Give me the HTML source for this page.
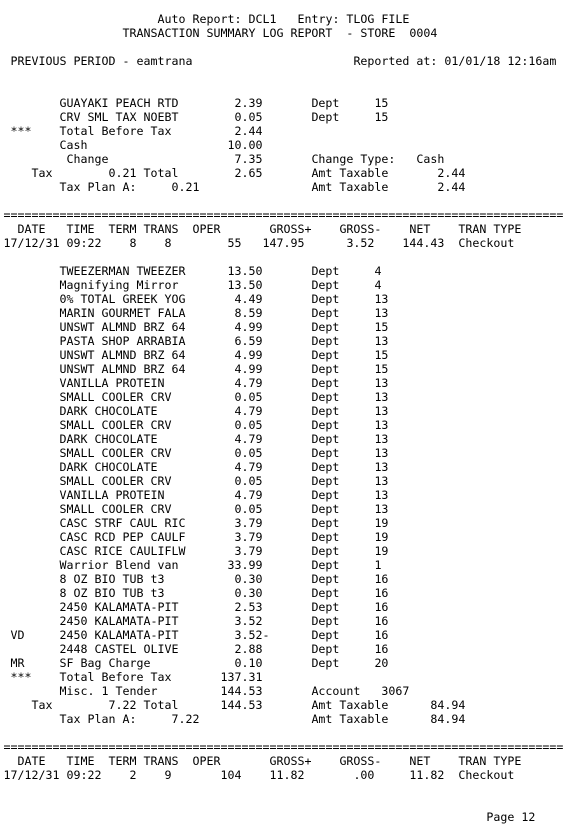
<!DOCTYPE html>
<html><head><meta charset="utf-8"><style>
html,body{margin:0;padding:0;background:#fff;}
#r{position:relative;width:572px;height:835px;overflow:hidden;padding-top:12px;box-sizing:border-box;font-family:"DejaVu Sans Mono","Liberation Mono",monospace;font-size:11.63px;color:#000;}
.l{position:relative;height:14px;line-height:14px;margin-left:3.5px;white-space:pre;}
.l span{position:absolute;top:0;white-space:pre;}
.a{left:0;width:37ch;text-align:right;}
</style></head><body>
<div id="r">
<div class="l"><span style="left:22ch">Auto Report: DCL1   Entry: TLOG FILE</span></div>
<div class="l"><span style="left:17ch">TRANSACTION SUMMARY LOG REPORT  - STORE  0004</span></div>
<div class="l"></div>
<div class="l"><span style="left:1ch">PREVIOUS PERIOD - eamtrana</span><span style="left:50ch">Reported at: 01/01/18 12:16am</span></div>
<div class="l"></div><div class="l"></div>
<div class="l"><span style="left:8ch">GUAYAKI PEACH RTD</span><span class="a">2.39</span><span style="left:44ch">Dept</span><span style="left:53ch">15</span></div>
<div class="l"><span style="left:8ch">CRV SML TAX NOEBT</span><span class="a">0.05</span><span style="left:44ch">Dept</span><span style="left:53ch">15</span></div>
<div class="l"><span style="left:1ch">***</span><span style="left:8ch">Total Before Tax</span><span class="a">2.44</span></div>
<div class="l"><span style="left:8ch">Cash</span><span class="a">10.00</span></div>
<div class="l"><span style="left:9ch">Change</span><span class="a">7.35</span><span style="left:44ch">Change Type:</span><span style="left:59ch">Cash</span></div>
<div class="l"><span style="left:4ch">Tax</span><span style="left:15ch">0.21 Total</span><span class="a">2.65</span><span style="left:44ch">Amt Taxable</span><span style="left:62ch">2.44</span></div>
<div class="l"><span style="left:8ch">Tax Plan A:</span><span style="left:24ch">0.21</span><span style="left:44ch">Amt Taxable</span><span style="left:62ch">2.44</span></div>
<div class="l"></div>
<div class="l"><span style="left:0">================================================================================</span></div>
<div class="l"><span style="left:2ch">DATE</span><span style="left:9ch">TIME</span><span style="left:15ch">TERM</span><span style="left:20ch">TRANS</span><span style="left:27ch">OPER</span><span style="left:38ch">GROSS+</span><span style="left:48ch">GROSS-</span><span style="left:58ch">NET</span><span style="left:65ch">TRAN TYPE</span></div>
<div class="l"><span style="left:0">17/12/31</span><span style="left:9ch">09:22</span><span style="left:18ch">8</span><span style="left:23ch">8</span><span style="left:32ch">55</span><span style="left:37ch">147.95</span><span style="left:49ch">3.52</span><span style="left:57ch">144.43</span><span style="left:65ch">Checkout</span></div>
<div class="l"></div>
<div class="l"><span style="left:8ch">TWEEZERMAN TWEEZER</span><span class="a">13.50</span><span style="left:44ch">Dept</span><span style="left:53ch">4</span></div>
<div class="l"><span style="left:8ch">Magnifying Mirror</span><span class="a">13.50</span><span style="left:44ch">Dept</span><span style="left:53ch">4</span></div>
<div class="l"><span style="left:8ch">0% TOTAL GREEK YOG</span><span class="a">4.49</span><span style="left:44ch">Dept</span><span style="left:53ch">13</span></div>
<div class="l"><span style="left:8ch">MARIN GOURMET FALA</span><span class="a">8.59</span><span style="left:44ch">Dept</span><span style="left:53ch">13</span></div>
<div class="l"><span style="left:8ch">UNSWT ALMND BRZ 64</span><span class="a">4.99</span><span style="left:44ch">Dept</span><span style="left:53ch">15</span></div>
<div class="l"><span style="left:8ch">PASTA SHOP ARRABIA</span><span class="a">6.59</span><span style="left:44ch">Dept</span><span style="left:53ch">13</span></div>
<div class="l"><span style="left:8ch">UNSWT ALMND BRZ 64</span><span class="a">4.99</span><span style="left:44ch">Dept</span><span style="left:53ch">15</span></div>
<div class="l"><span style="left:8ch">UNSWT ALMND BRZ 64</span><span class="a">4.99</span><span style="left:44ch">Dept</span><span style="left:53ch">15</span></div>
<div class="l"><span style="left:8ch">VANILLA PROTEIN</span><span class="a">4.79</span><span style="left:44ch">Dept</span><span style="left:53ch">13</span></div>
<div class="l"><span style="left:8ch">SMALL COOLER CRV</span><span class="a">0.05</span><span style="left:44ch">Dept</span><span style="left:53ch">13</span></div>
<div class="l"><span style="left:8ch">DARK CHOCOLATE</span><span class="a">4.79</span><span style="left:44ch">Dept</span><span style="left:53ch">13</span></div>
<div class="l"><span style="left:8ch">SMALL COOLER CRV</span><span class="a">0.05</span><span style="left:44ch">Dept</span><span style="left:53ch">13</span></div>
<div class="l"><span style="left:8ch">DARK CHOCOLATE</span><span class="a">4.79</span><span style="left:44ch">Dept</span><span style="left:53ch">13</span></div>
<div class="l"><span style="left:8ch">SMALL COOLER CRV</span><span class="a">0.05</span><span style="left:44ch">Dept</span><span style="left:53ch">13</span></div>
<div class="l"><span style="left:8ch">DARK CHOCOLATE</span><span class="a">4.79</span><span style="left:44ch">Dept</span><span style="left:53ch">13</span></div>
<div class="l"><span style="left:8ch">SMALL COOLER CRV</span><span class="a">0.05</span><span style="left:44ch">Dept</span><span style="left:53ch">13</span></div>
<div class="l"><span style="left:8ch">VANILLA PROTEIN</span><span class="a">4.79</span><span style="left:44ch">Dept</span><span style="left:53ch">13</span></div>
<div class="l"><span style="left:8ch">SMALL COOLER CRV</span><span class="a">0.05</span><span style="left:44ch">Dept</span><span style="left:53ch">13</span></div>
<div class="l"><span style="left:8ch">CASC STRF CAUL RIC</span><span class="a">3.79</span><span style="left:44ch">Dept</span><span style="left:53ch">19</span></div>
<div class="l"><span style="left:8ch">CASC RCD PEP CAULF</span><span class="a">3.79</span><span style="left:44ch">Dept</span><span style="left:53ch">19</span></div>
<div class="l"><span style="left:8ch">CASC RICE CAULIFLW</span><span class="a">3.79</span><span style="left:44ch">Dept</span><span style="left:53ch">19</span></div>
<div class="l"><span style="left:8ch">Warrior Blend van</span><span class="a">33.99</span><span style="left:44ch">Dept</span><span style="left:53ch">1</span></div>
<div class="l"><span style="left:8ch">8 OZ BIO TUB t3</span><span class="a">0.30</span><span style="left:44ch">Dept</span><span style="left:53ch">16</span></div>
<div class="l"><span style="left:8ch">8 OZ BIO TUB t3</span><span class="a">0.30</span><span style="left:44ch">Dept</span><span style="left:53ch">16</span></div>
<div class="l"><span style="left:8ch">2450 KALAMATA-PIT</span><span class="a">2.53</span><span style="left:44ch">Dept</span><span style="left:53ch">16</span></div>
<div class="l"><span style="left:8ch">2450 KALAMATA-PIT</span><span class="a">3.52</span><span style="left:44ch">Dept</span><span style="left:53ch">16</span></div>
<div class="l"><span style="left:1ch">VD</span><span style="left:8ch">2450 KALAMATA-PIT</span><span style="left:33ch">3.52-</span><span style="left:44ch">Dept</span><span style="left:53ch">16</span></div>
<div class="l"><span style="left:8ch">2448 CASTEL OLIVE</span><span class="a">2.88</span><span style="left:44ch">Dept</span><span style="left:53ch">16</span></div>
<div class="l"><span style="left:1ch">MR</span><span style="left:8ch">SF Bag Charge</span><span class="a">0.10</span><span style="left:44ch">Dept</span><span style="left:53ch">20</span></div>
<div class="l"><span style="left:1ch">***</span><span style="left:8ch">Total Before Tax</span><span class="a">137.31</span></div>
<div class="l"><span style="left:8ch">Misc. 1 Tender</span><span class="a">144.53</span><span style="left:44ch">Account</span><span style="left:54ch">3067</span></div>
<div class="l"><span style="left:4ch">Tax</span><span style="left:15ch">7.22 Total</span><span class="a">144.53</span><span style="left:44ch">Amt Taxable</span><span style="left:61ch">84.94</span></div>
<div class="l"><span style="left:8ch">Tax Plan A:</span><span style="left:24ch">7.22</span><span style="left:44ch">Amt Taxable</span><span style="left:61ch">84.94</span></div>
<div class="l"></div>
<div class="l"><span style="left:0">================================================================================</span></div>
<div class="l"><span style="left:2ch">DATE</span><span style="left:9ch">TIME</span><span style="left:15ch">TERM</span><span style="left:20ch">TRANS</span><span style="left:27ch">OPER</span><span style="left:38ch">GROSS+</span><span style="left:48ch">GROSS-</span><span style="left:58ch">NET</span><span style="left:65ch">TRAN TYPE</span></div>
<div class="l"><span style="left:0">17/12/31</span><span style="left:9ch">09:22</span><span style="left:18ch">2</span><span style="left:23ch">9</span><span style="left:31ch">104</span><span style="left:38ch">11.82</span><span style="left:50ch">.00</span><span style="left:58ch">11.82</span><span style="left:65ch">Checkout</span></div>
<div class="l"></div><div class="l"></div>
<div class="l"><span style="left:69ch">Page 12</span></div>
</div>
</body></html>
